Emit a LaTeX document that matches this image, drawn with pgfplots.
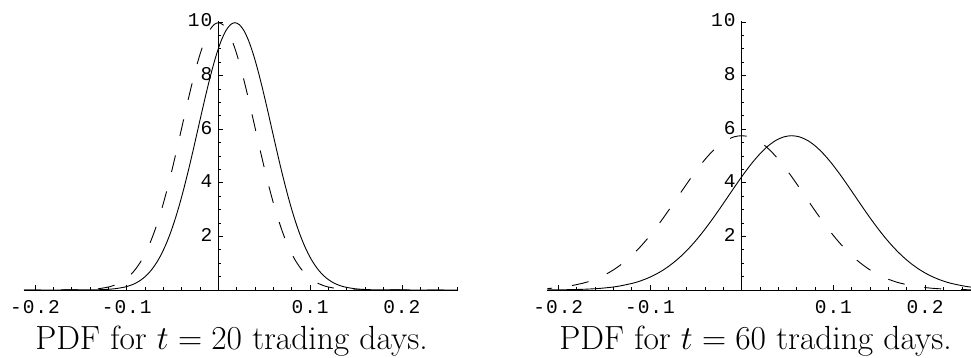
\RequirePackage{fix-cm}
\documentclass[border=0pt]{standalone}
\usepackage{fontspec}
\usepackage{pgfplots}
\pgfplotsset{compat=1.18}
\newfontfamily\tickfont{Liberation Mono}[Scale=1.95, LetterSpace=5]
\newcommand\tl[1]{{\tickfont #1}}
\pgfplotsset{
  mma/.style={
    scale only axis, x=917pt, y=26.8pt,
    ymin=0, ymax=10.02, xmin=-0.212,
    axis lines=middle,
    axis line style={-, line width=0.8pt, black},
    every tick/.style={black, line width=0.6pt},
    tick align=inside,
    major tick length=4.5pt, minor tick length=2.6pt,
    xtick={-0.2,-0.1,0.1,0.2},
    xticklabels={\tl{-0.2},\tl{-0.1},\tl{0.1},\tl{0.2}},
    minor xtick={-0.18,-0.16,-0.14,-0.12,-0.08,-0.06,-0.04,-0.02,0.02,0.04,0.06,0.08,0.12,0.14,0.16,0.18,0.22,0.24,0.26},
    ytick={2,4,6,8,10},
    yticklabels={\tl{2},\tl{4},\tl{6},\tl{8},\tl{10}},
    minor ytick={0.5,1,1.5,2.5,3,3.5,4.5,5,5.5,6.5,7,7.5,8.5,9,9.5},
    xticklabel style={anchor=north, inner sep=0pt, yshift=-10pt},
    yticklabel style={anchor=east, inner sep=0pt, xshift=-6pt, yshift=1.5pt},
    clip=true,
  },
  sol/.style={black, line width=0.9pt, smooth},
  das/.style={black, line width=0.9pt, smooth, dash pattern=on 17pt off 20pt},
}
\begin{document}
\begin{tikzpicture}
\useasboundingbox (0,0) rectangle (971pt,358pt);
\clip (0,0) rectangle (971pt,358pt);
% left panel: t = 20
\begin{axis}[mma, at={(24pt,68pt)}, anchor=south west, xmax=0.2614]
\addplot[das] coordinates {(-0.212,0) (-0.16,0.0033) (-0.15,0.0088) (-0.14,0.0218) (-0.13,0.0507) (-0.12,0.111) (-0.115,0.160) (-0.11,0.227) (-0.105,0.318) (-0.10,0.438) (-0.095,0.594) (-0.09,0.794) (-0.085,1.043) (-0.08,1.350) (-0.075,1.720) (-0.07,2.157) (-0.065,2.664) (-0.06,3.238) (-0.055,3.876) (-0.05,4.566) (-0.045,5.297) (-0.04,6.050) (-0.035,6.802) (-0.03,7.529) (-0.025,8.204) (-0.02,8.802) (-0.015,9.297) (-0.01,9.667) (-0.005,9.896) (0,9.974) (0.005,9.896) (0.01,9.667) (0.015,9.297) (0.02,8.802) (0.025,8.204) (0.03,7.529) (0.035,6.802) (0.04,6.050) (0.045,5.297) (0.05,4.566) (0.055,3.876) (0.06,3.238) (0.065,2.664) (0.07,2.157) (0.075,1.720) (0.08,1.350) (0.085,1.043) (0.09,0.794) (0.095,0.594) (0.10,0.438) (0.105,0.318) (0.11,0.227) (0.115,0.160) (0.12,0.111) (0.13,0.0507) (0.14,0.0218) (0.15,0.0088) (0.16,0.0033) (0.261,0)};
\addplot[sol] coordinates {(-0.212,0) (-0.142,0.0033) (-0.132,0.0088) (-0.122,0.0218) (-0.112,0.0507) (-0.102,0.111) (-0.097,0.160) (-0.092,0.227) (-0.087,0.318) (-0.082,0.438) (-0.077,0.594) (-0.072,0.794) (-0.067,1.043) (-0.062,1.350) (-0.057,1.720) (-0.052,2.157) (-0.047,2.664) (-0.042,3.238) (-0.037,3.876) (-0.032,4.566) (-0.027,5.297) (-0.022,6.050) (-0.017,6.802) (-0.012,7.529) (-0.007,8.204) (-0.002,8.802) (0.003,9.297) (0.008,9.667) (0.013,9.896) (0.018,9.974) (0.023,9.896) (0.028,9.667) (0.033,9.297) (0.038,8.802) (0.043,8.204) (0.048,7.529) (0.053,6.802) (0.058,6.050) (0.063,5.297) (0.068,4.566) (0.073,3.876) (0.078,3.238) (0.083,2.664) (0.088,2.157) (0.093,1.720) (0.098,1.350) (0.103,1.043) (0.108,0.794) (0.113,0.594) (0.118,0.438) (0.123,0.318) (0.128,0.227) (0.133,0.160) (0.138,0.111) (0.148,0.0507) (0.158,0.0218) (0.168,0.0088) (0.178,0.0033) (0.261,0)};
\end{axis}
% right panel: t = 60
\begin{axis}[mma, at={(547.3pt,68pt)}, anchor=south west, xmax=0.2505]
\addplot[das] coordinates {(-0.22523,0.0293) (-0.20790,0.064) (-0.19058,0.131) (-0.17325,0.253) (-0.16459,0.343) (-0.15593,0.458) (-0.14726,0.602) (-0.13860,0.779) (-0.12994,0.993) (-0.12128,1.245) (-0.11261,1.537) (-0.10395,1.869) (-0.09529,2.237) (-0.08663,2.636) (-0.07796,3.058) (-0.06930,3.492) (-0.06064,3.926) (-0.05198,4.346) (-0.04331,4.736) (-0.03465,5.080) (-0.02599,5.366) (-0.01733,5.580) (-0.00866,5.712) (0,5.757) (0.00866,5.712) (0.01733,5.580) (0.02599,5.366) (0.03465,5.080) (0.04331,4.736) (0.05198,4.346) (0.06064,3.926) (0.06930,3.492) (0.07796,3.058) (0.08663,2.636) (0.09529,2.237) (0.10395,1.869) (0.11261,1.537) (0.12128,1.245) (0.12994,0.993) (0.13860,0.779) (0.14726,0.602) (0.15593,0.458) (0.16459,0.343) (0.17325,0.253) (0.19058,0.131) (0.20790,0.064) (0.22523,0.0293) (0.24255,0.0126) (0.25988,0.0051)};
\addplot[sol] coordinates {(-0.2227,0.0019) (-0.20538,0.0051) (-0.18805,0.0126) (-0.17073,0.0293) (-0.15340,0.064) (-0.13608,0.131) (-0.11875,0.253) (-0.11009,0.343) (-0.10143,0.458) (-0.09276,0.602) (-0.08410,0.779) (-0.07544,0.993) (-0.06678,1.245) (-0.05811,1.537) (-0.04945,1.869) (-0.04079,2.237) (-0.03213,2.636) (-0.02346,3.058) (-0.01480,3.492) (-0.00614,3.926) (0.00252,4.346) (0.01119,4.736) (0.01985,5.080) (0.02851,5.366) (0.03718,5.580) (0.04584,5.712) (0.0545,5.757) (0.06316,5.712) (0.07183,5.580) (0.08049,5.366) (0.08915,5.080) (0.09781,4.736) (0.10648,4.346) (0.11514,3.926) (0.12380,3.492) (0.13246,3.058) (0.14113,2.636) (0.14979,2.237) (0.15845,1.869) (0.16711,1.537) (0.17578,1.245) (0.18444,0.993) (0.19310,0.779) (0.20176,0.602) (0.21043,0.458) (0.21909,0.343) (0.22775,0.253) (0.24508,0.131) (0.26240,0.064)};
\end{axis}
\node[anchor=base, inner sep=0pt, font={\fontsize{33.5}{40}\selectfont}] at (231.5pt,8pt) {PDF for $t=20$ trading days.};
\node[anchor=base, inner sep=0pt, font={\fontsize{33.5}{40}\selectfont}] at (755.5pt,8pt) {PDF for $t=60$ trading days.};
\end{tikzpicture}
\end{document}
